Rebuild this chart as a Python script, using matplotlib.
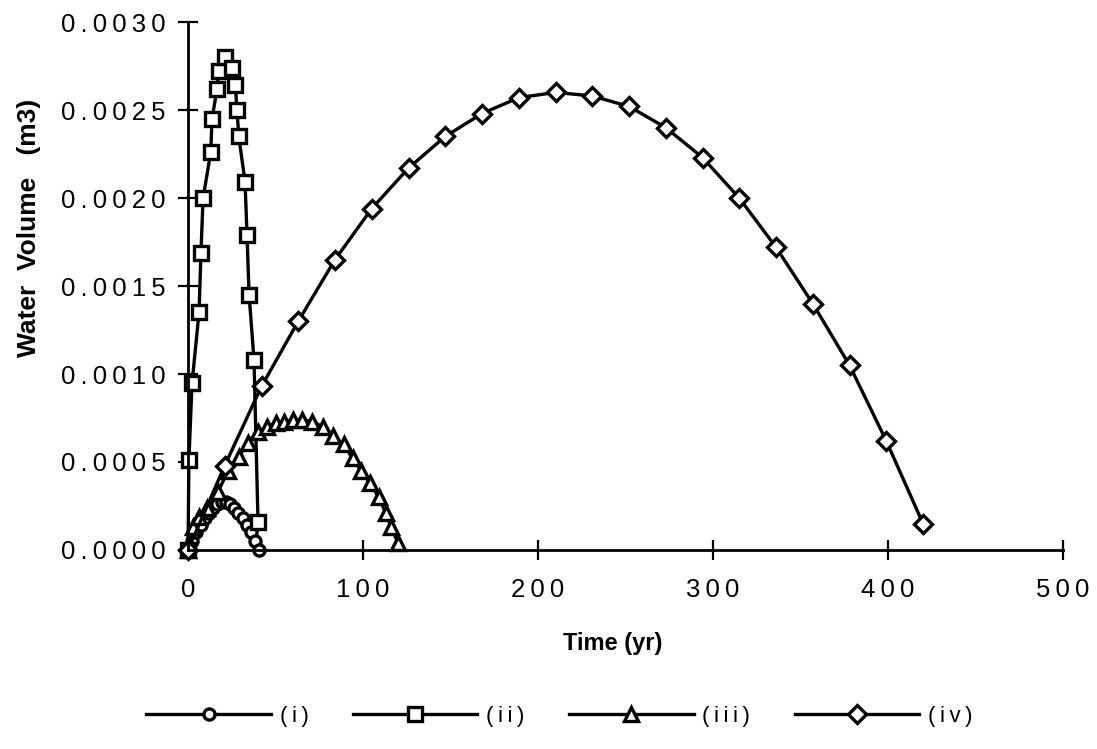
import matplotlib
matplotlib.use("Agg")
import matplotlib.pyplot as plt
from matplotlib.ticker import FixedLocator, FuncFormatter

# series (i): circles
t_i = [0, 2.4, 4.8, 7.2, 9.6, 12, 14.4, 16.8, 19.2, 21.6, 24, 26.4, 28.8, 31.2, 33.6, 36, 38.4, 40.8]
v_i = [0, 0.00005, 0.0001, 0.00014, 0.00018, 0.00021, 0.00024, 0.00026, 0.00027,
       0.00027, 0.00026, 0.00024, 0.00021, 0.00018, 0.00014, 0.0001, 0.00005, 0.0]

# series (ii): squares
t_ii = [0, 0.5, 2.3, 6.3, 7.4, 8.6, 13, 13.7, 16.6, 17.7, 21, 25, 27, 28, 29, 32.6, 33.7, 34.9, 37.7, 40]
v_ii = [0, 0.00051, 0.00095, 0.00135, 0.00169, 0.0020, 0.00226, 0.00245, 0.00262, 0.00272,
        0.0028, 0.00274, 0.00264, 0.0025, 0.00235, 0.00209, 0.00179, 0.00145, 0.00108, 0.00016]

# series (iii): triangles
t_iii = [0, 3, 6, 11, 17, 23, 29, 34, 40, 45, 50, 55, 60, 65, 71, 77, 83, 89, 94, 99,
         104, 109, 113, 116, 120]
v_iii = [0, 0.00013, 0.00019, 0.00024, 0.00033, 0.00045, 0.00053, 0.00061, 0.00067, 0.0007,
         0.00072, 0.00073, 0.00074, 0.00074, 0.00073, 0.0007, 0.00065, 0.0006, 0.00052, 0.00045,
         0.00038, 0.0003, 0.00021, 0.00013, 0.00004]

# series (iv): diamonds
t_iv = [0, 21, 42, 63, 84, 105, 126, 147, 168, 189, 210, 231, 252, 273, 294, 315, 336, 357, 378, 399, 420]
v_iv = [0, 0.00048, 0.00093, 0.0013, 0.00165, 0.00194, 0.00217, 0.00235, 0.00248, 0.00257,
        0.0026, 0.00258, 0.00252, 0.0024, 0.00223, 0.002, 0.00172, 0.0014, 0.00105, 0.00062, 0.00015]

x_ticks = [0, 100, 200, 300, 400, 500]
y_ticks = [0, 0.0005, 0.0010, 0.0015, 0.0020, 0.0025, 0.0030]
series_labels = ["(i)", "(ii)", "(iii)", "(iv)"]

THIN = "\u2009"


def spaced(s):
    # the original uses wide letter spacing on tick and legend text
    return THIN.join(s)


plt.rcParams['font.family'] = ['Liberation Sans', 'DejaVu Sans']

fig = plt.figure(figsize=(10.97, 7.49), dpi=100)
ax = fig.add_axes([0.1714, 0.2657, 0.7976, 0.7049])

style = dict(color='black', lw=2.4, mfc='white', mec='black', mew=2.4, clip_on=False)
ax.plot(t_i, v_i, marker='o', ms=8, label=spaced(series_labels[0]), **style)
ax.plot(t_ii, v_ii, marker='s', ms=10, label=spaced(series_labels[1]), **style)
ax.plot(t_iii, v_iii, marker='^', ms=10, label=spaced(series_labels[2]), **style)
ax.plot(t_iv, v_iv, marker='D', ms=9, label=spaced(series_labels[3]), **style)

ax.set_xlim(0, 500)
ax.set_ylim(0, 0.003)
ax.xaxis.set_major_locator(FixedLocator(x_ticks))
ax.yaxis.set_major_locator(FixedLocator(y_ticks))
ax.xaxis.set_major_formatter(FuncFormatter(lambda v, p: spaced(f"{v:.0f}")))
ax.yaxis.set_major_formatter(FuncFormatter(lambda v, p: spaced(f"{v:.4f}")))

for side in ['top', 'right']:
    ax.spines[side].set_visible(False)
for side in ['left', 'bottom']:
    ax.spines[side].set_linewidth(2)

ax.tick_params(direction='inout', length=14, width=1.6, labelsize=18.5)
ax.tick_params(axis='x', pad=13)
ax.tick_params(axis='y', pad=9)

ax.set_xlabel('Time (yr)', fontsize=17, fontweight='bold')
ax.set_ylabel('Water  Volume   (m3)', fontsize=19, fontweight='bold')
ax.xaxis.set_label_coords(0.485, -0.155)
ax.yaxis.set_label_coords(-0.168, 0.61)

ax.legend(loc='center', bbox_to_anchor=(0.51, 0.044), bbox_transform=fig.transFigure,
          ncol=4, frameon=False, fontsize=16, handlelength=5.6, handletextpad=0.4,
          columnspacing=2.0)

fig.savefig('out.png', dpi=100)
